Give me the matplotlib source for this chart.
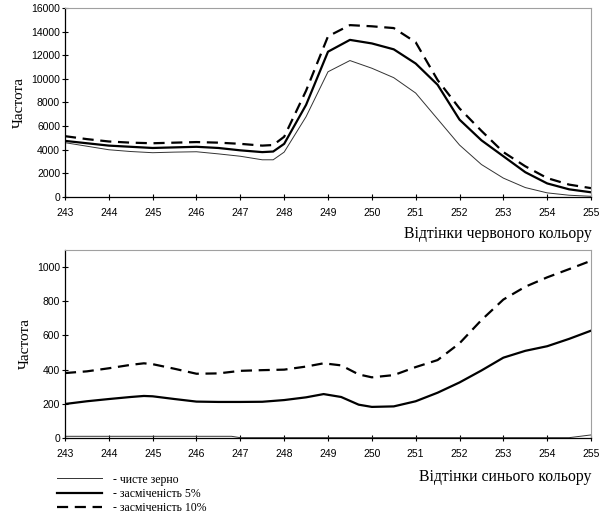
import numpy as np
import matplotlib
matplotlib.use("Agg")
import matplotlib.pyplot as plt
from matplotlib.lines import Line2D

# red channel shades
x_red = [243, 243.5, 244, 244.5, 245, 245.5, 246, 246.5, 247, 247.5, 247.75, 248, 248.5,
         249, 249.5, 250, 250.5, 251, 251.5, 252, 252.5, 253, 253.5, 254, 254.5, 255]
red_clean = [4600, 4300, 4000, 3850, 3750, 3800, 3830, 3650, 3450, 3150, 3150, 3800, 6800,
             10600, 11550, 10900, 10100, 8800, 6600, 4400, 2750, 1600, 800, 350, 150, 60]
red_5 = [4750, 4550, 4350, 4250, 4150, 4200, 4250, 4150, 3950, 3800, 3850, 4500, 7800,
         12300, 13300, 13000, 12500, 11300, 9500, 6550, 4800, 3450, 2100, 1150, 650, 400]
red_10 = [5150, 4900, 4700, 4600, 4550, 4600, 4650, 4600, 4500, 4350, 4400, 5100, 9000,
          13600, 14550, 14450, 14300, 13100, 9900, 7500, 5600, 3800, 2600, 1600, 1050, 750]

# blue channel shades, lower panel
x_blue = [243, 243.5, 244, 244.5, 244.8, 245, 245.5, 246, 246.5, 247, 247.5, 248, 248.5,
          248.9, 249.3, 249.7, 250, 250.5, 251, 251.5, 252, 252.5, 253, 253.5, 254, 254.5, 255]
blue_5 = [199, 215, 228, 240, 246, 244, 228, 213, 211, 211, 212, 222, 238,
          257, 240, 195, 182, 185, 215, 265, 325, 395, 470, 510, 537, 580, 628]
blue_10 = [380, 390, 408, 428, 437, 432, 405, 376, 378, 393, 397, 400, 418,
           437, 425, 372, 355, 368, 415, 456, 554, 690, 810, 885, 940, 988, 1037]
x_blue_clean = [243, 244, 245, 246, 246.8, 247, 248, 249, 250, 251, 252, 253, 254, 254.5, 255]
blue_clean = [10, 10, 10, 10, 10, 2, 2, 2, 2, 2, 2, 2, 2, 2, 18]

xticks = list(range(243, 256))
legend_labels = ["- чисте зерно", "- засміченість 5%", "- засміченість 10%"]

serif = ["Liberation Serif", "DejaVu Serif"]
tick_font = "Liberation Sans"

thin = dict(color="#333333", lw=0.7)
thick = dict(color="black", lw=1.6)
dash = dict(color="black", lw=1.6, dashes=(5, 3))

fig = plt.figure(figsize=(6.05, 5.22), dpi=100)
ax1 = fig.add_axes([0.1074, 0.6226, 0.8695, 0.3621])
ax2 = fig.add_axes([0.1074, 0.1609, 0.8695, 0.3602])


def style_axes(ax, ymax, ystep, ylabels):
    ax.set_xlim(243, 255)
    ax.set_ylim(0, ymax)
    ax.set_xticks(xticks)
    ax.set_yticks(ylabels)
    ax.tick_params(direction="inout", length=4, width=0.8, labelsize=7.5)
    ax.tick_params(axis="x", pad=6)
    ax.tick_params(axis="y", pad=1.5)
    for lab in ax.get_xticklabels() + ax.get_yticklabels():
        lab.set_fontfamily(tick_font)
    for side in ["top", "right"]:
        ax.spines[side].set_color("#a0a0a0")
        ax.spines[side].set_linewidth(0.8)
    for side in ["left", "bottom"]:
        ax.spines[side].set_linewidth(0.9)
    ax.set_ylabel("Частота", family=serif, fontsize=11, labelpad=4)


ax1.plot(x_red, red_clean, **thin)
ax1.plot(x_red, red_5, **thick)
ax1.plot(x_red, red_10, **dash)
style_axes(ax1, 16000, 2000, list(range(0, 16001, 2000)))
fig.text(0.978, 0.545, "Відтінки червоного кольору", family=serif, fontsize=11.3, ha="right")

ax2.plot(x_blue_clean, blue_clean, **thin)
ax2.plot(x_blue, blue_5, **thick)
ax2.plot(x_blue, blue_10, **dash)
style_axes(ax2, 1100, 200, list(range(0, 1001, 200)))
fig.text(0.978, 0.078, "Відтінки синього кольору", family=serif, fontsize=11.3, ha="right")

handles = [Line2D([], [], **thin), Line2D([], [], **thick), Line2D([], [], **dash)]
fig.legend(handles, legend_labels, loc="upper left", bbox_to_anchor=(0.085, 0.104),
           frameon=False, prop={"family": serif, "size": 8.5},
           handlelength=3.8, handletextpad=0.9, labelspacing=0.2, borderpad=0)

fig.savefig("out.png", dpi=100)
